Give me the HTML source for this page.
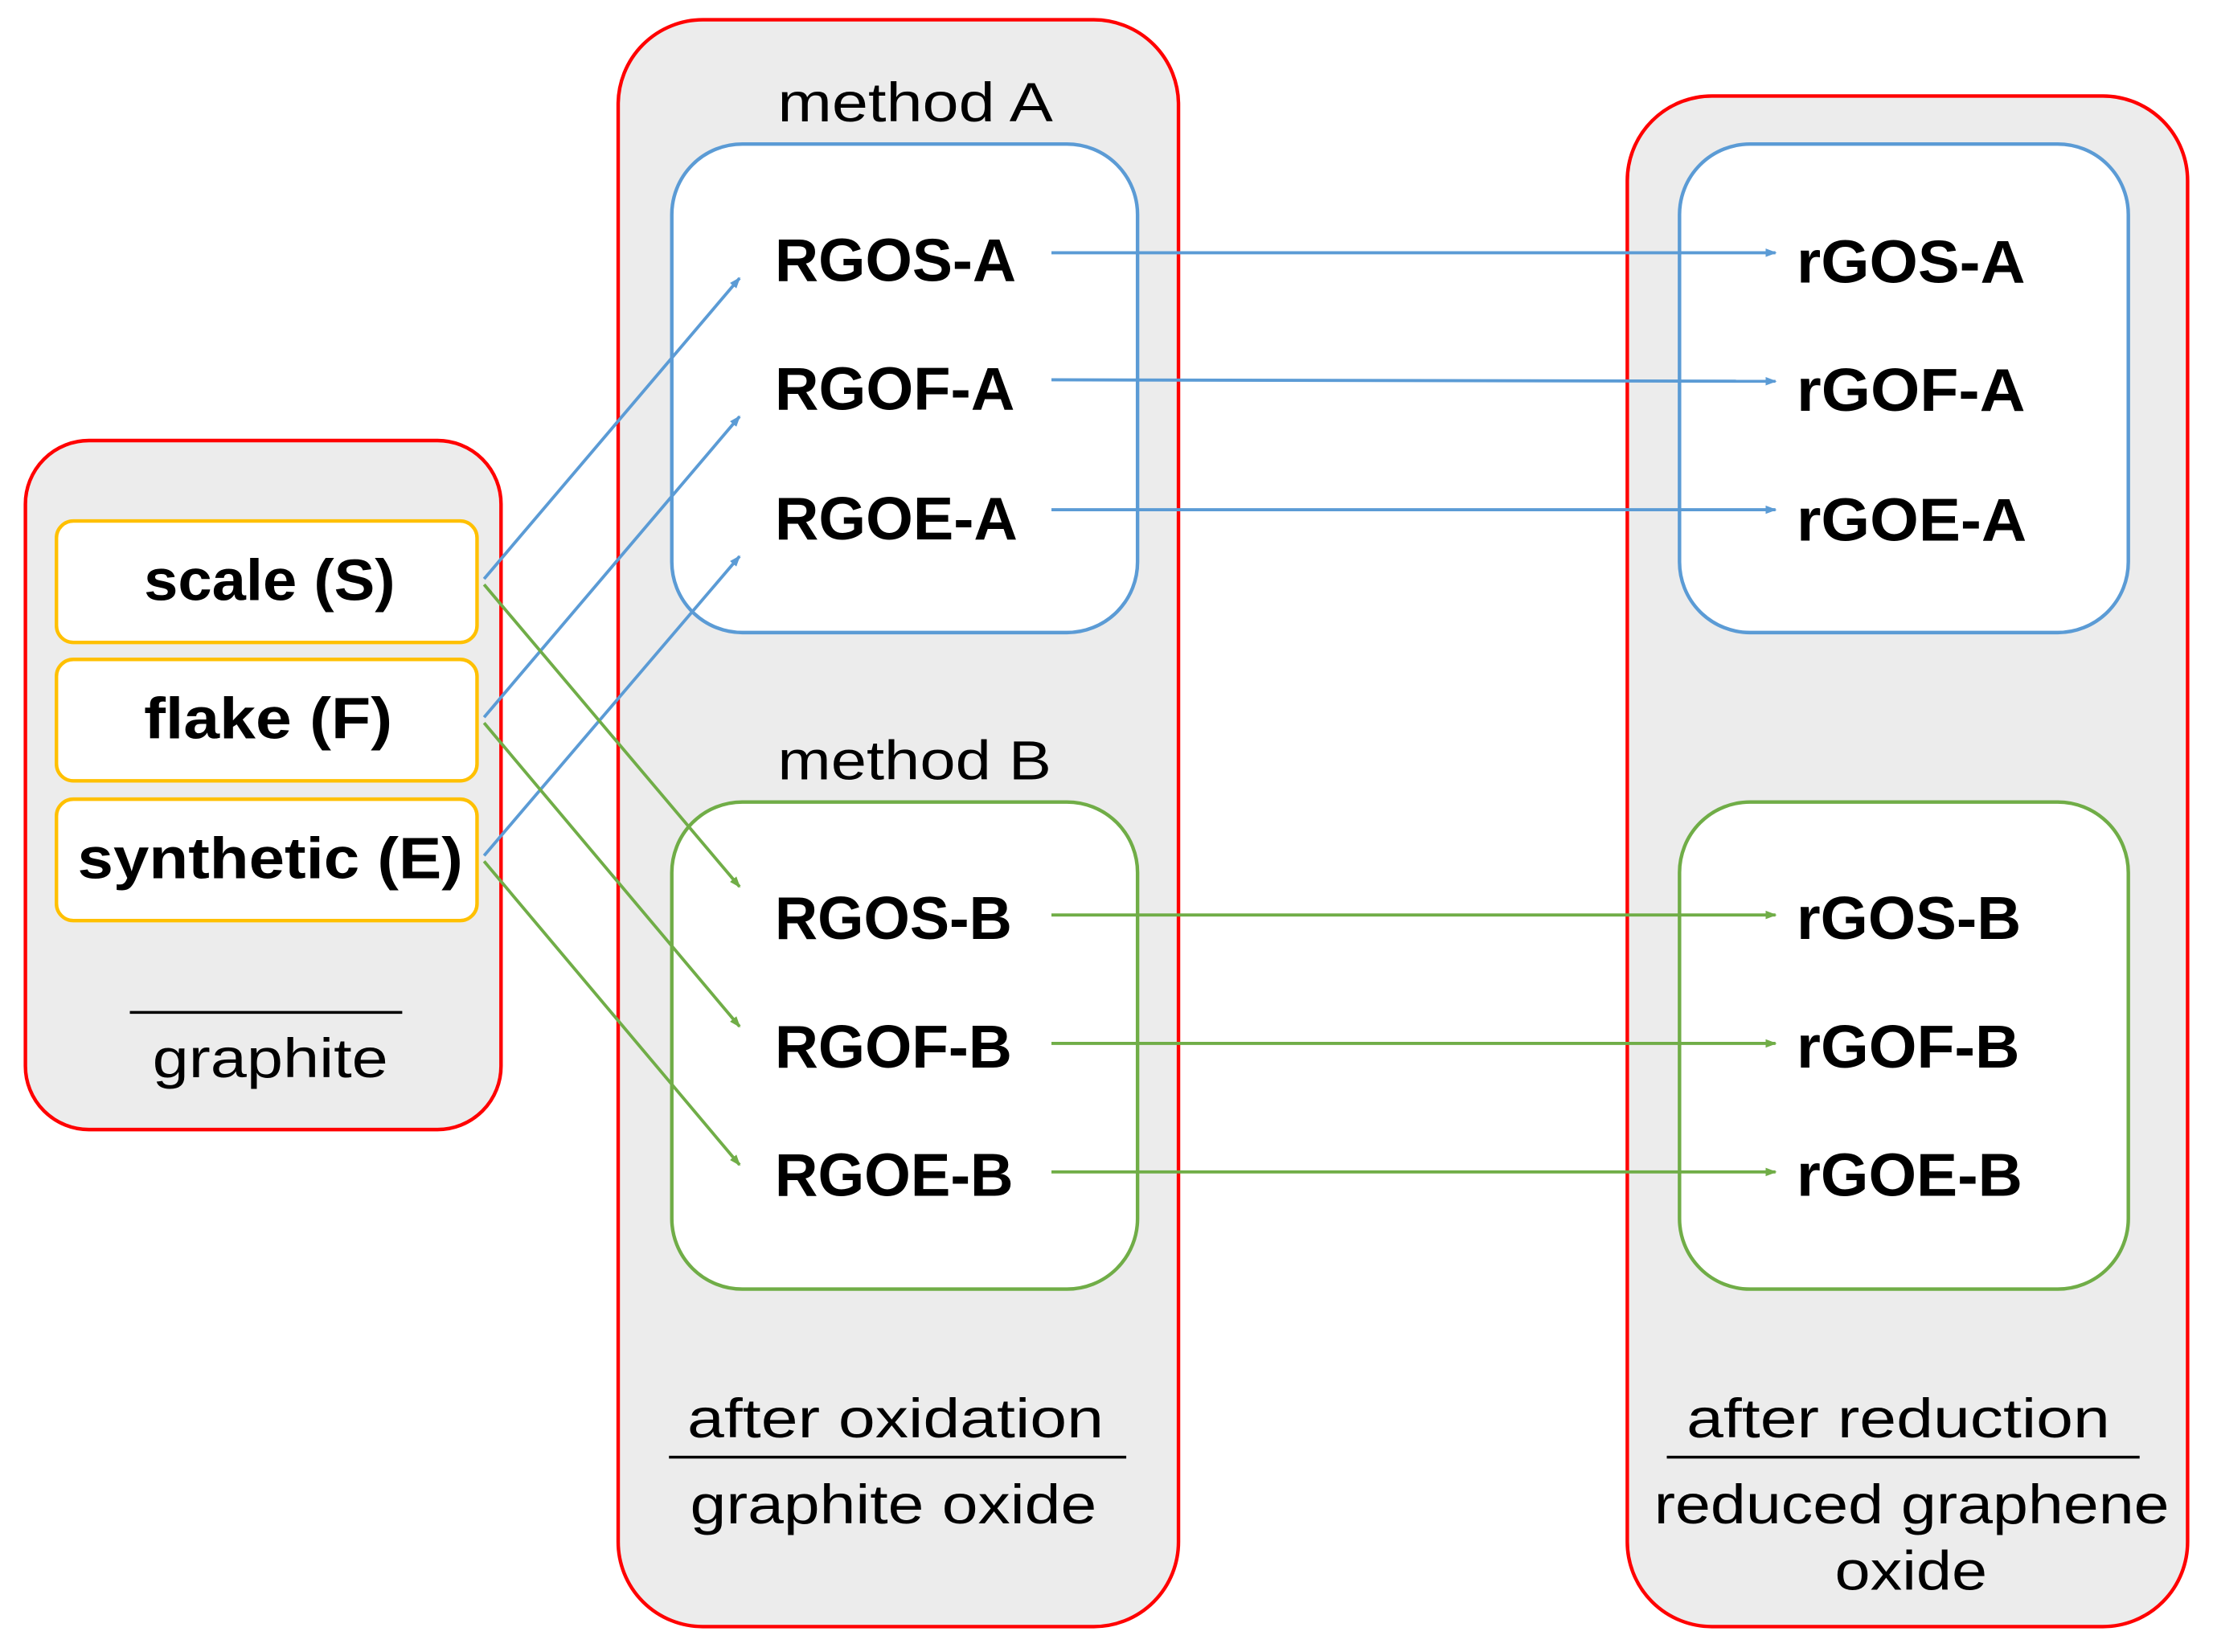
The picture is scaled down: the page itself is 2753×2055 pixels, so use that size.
<!DOCTYPE html>
<html><head><meta charset="utf-8"><style>html,body{margin:0;padding:0;background:#fff}svg{display:block}</style></head>
<body>
<svg width="2753" height="2055" viewBox="0 0 1568 1170" preserveAspectRatio="none" xmlns="http://www.w3.org/2000/svg" font-family="Liberation Sans, DejaVu Sans, sans-serif">
<defs>
<marker id="ab" markerWidth="8" markerHeight="8" refX="7" refY="4" orient="auto" markerUnits="userSpaceOnUse"><path d="M0,1 L8,4 L0,7 Z" fill="#5b9bd5"/></marker>
<marker id="ag" markerWidth="8" markerHeight="8" refX="7" refY="4" orient="auto" markerUnits="userSpaceOnUse"><path d="M0,1 L8,4 L0,7 Z" fill="#70ad47"/></marker>
</defs>
<g fill="#ececec" stroke="#ff0000" stroke-width="2.5">
<rect x="18" y="312" width="337" height="488" rx="45"/>
<rect x="438" y="14" width="397" height="1138" rx="60"/>
<rect x="1153" y="68" width="397" height="1084" rx="60"/>
</g>
<g fill="#fff" stroke="#ffc000" stroke-width="2.5">
<rect x="40" y="369" width="298" height="86" rx="12"/>
<rect x="40" y="467" width="298" height="86" rx="12"/>
<rect x="40" y="566" width="298" height="86" rx="12"/>
</g>
<g fill="#fff" stroke-width="2.5">
<rect x="476" y="102" width="330" height="346" rx="50" stroke="#5b9bd5"/>
<rect x="476" y="568" width="330" height="345" rx="50" stroke="#70ad47"/>
<rect x="1190" y="102" width="318" height="346" rx="50" stroke="#5b9bd5"/>
<rect x="1190" y="568" width="318" height="345" rx="50" stroke="#70ad47"/>
</g>
<g font-weight="bold" font-size="41" fill="#000" lengthAdjust="spacingAndGlyphs">
<text x="102" y="425" textLength="178" lengthAdjust="spacingAndGlyphs">scale (S)</text>
<text x="102" y="523" textLength="176" lengthAdjust="spacingAndGlyphs">flake (F)</text>
<text x="55" y="622" textLength="273" lengthAdjust="spacingAndGlyphs">synthetic (E)</text>
</g>
<g font-weight="bold" font-size="43" fill="#000">
<text x="549" y="199" textLength="171" lengthAdjust="spacingAndGlyphs">RGOS-A</text>
<text x="549" y="290" textLength="170" lengthAdjust="spacingAndGlyphs">RGOF-A</text>
<text x="549" y="382" textLength="172" lengthAdjust="spacingAndGlyphs">RGOE-A</text>
<text x="549" y="665" textLength="168" lengthAdjust="spacingAndGlyphs">RGOS-B</text>
<text x="549" y="756" textLength="168" lengthAdjust="spacingAndGlyphs">RGOF-B</text>
<text x="549" y="847" textLength="169" lengthAdjust="spacingAndGlyphs">RGOE-B</text>
<text x="1273" y="200" textLength="162" lengthAdjust="spacingAndGlyphs">rGOS-A</text>
<text x="1273" y="291" textLength="162" lengthAdjust="spacingAndGlyphs">rGOF-A</text>
<text x="1273" y="383" textLength="163" lengthAdjust="spacingAndGlyphs">rGOE-A</text>
<text x="1273" y="665" textLength="159" lengthAdjust="spacingAndGlyphs">rGOS-B</text>
<text x="1273" y="756" textLength="158" lengthAdjust="spacingAndGlyphs">rGOF-B</text>
<text x="1273" y="847" textLength="160" lengthAdjust="spacingAndGlyphs">rGOE-B</text>
</g>
<g font-size="39" fill="#000">
<text x="551" y="86" textLength="195" lengthAdjust="spacingAndGlyphs">method A</text>
<text x="551" y="552" textLength="194" lengthAdjust="spacingAndGlyphs">method B</text>
<text x="108" y="763" textLength="167" lengthAdjust="spacingAndGlyphs">graphite</text>
<text x="487" y="1018" textLength="295" lengthAdjust="spacingAndGlyphs">after oxidation</text>
<text x="489" y="1079" textLength="288" lengthAdjust="spacingAndGlyphs">graphite oxide</text>
<text x="1195" y="1018" textLength="300" lengthAdjust="spacingAndGlyphs">after reduction</text>
<text x="1172" y="1079" textLength="365" lengthAdjust="spacingAndGlyphs">reduced graphene</text>
<text x="1300" y="1126" textLength="108" lengthAdjust="spacingAndGlyphs">oxide</text>
</g>
<g stroke="#000" stroke-width="2">
<line x1="92" y1="717" x2="285" y2="717"/>
<line x1="474" y1="1032" x2="798" y2="1032"/>
<line x1="1181" y1="1032" x2="1516" y2="1032"/>
</g>
<g stroke="#5b9bd5" stroke-width="2.2" marker-end="url(#ab)">
<line x1="343" y1="410" x2="524" y2="197"/>
<line x1="343" y1="508" x2="524" y2="295"/>
<line x1="343" y1="606" x2="524" y2="394"/>
<line x1="745" y1="179" x2="1258" y2="179"/>
<line x1="745" y1="269" x2="1258" y2="270"/>
<line x1="745" y1="361" x2="1258" y2="361"/>
</g>
<g stroke="#70ad47" stroke-width="2.2" marker-end="url(#ag)">
<line x1="343" y1="414" x2="524" y2="628"/>
<line x1="343" y1="512" x2="524" y2="727"/>
<line x1="343" y1="610" x2="524" y2="825"/>
<line x1="745" y1="648" x2="1258" y2="648"/>
<line x1="745" y1="739" x2="1258" y2="739"/>
<line x1="745" y1="830" x2="1258" y2="830"/>
</g>
</svg>
</body></html>
